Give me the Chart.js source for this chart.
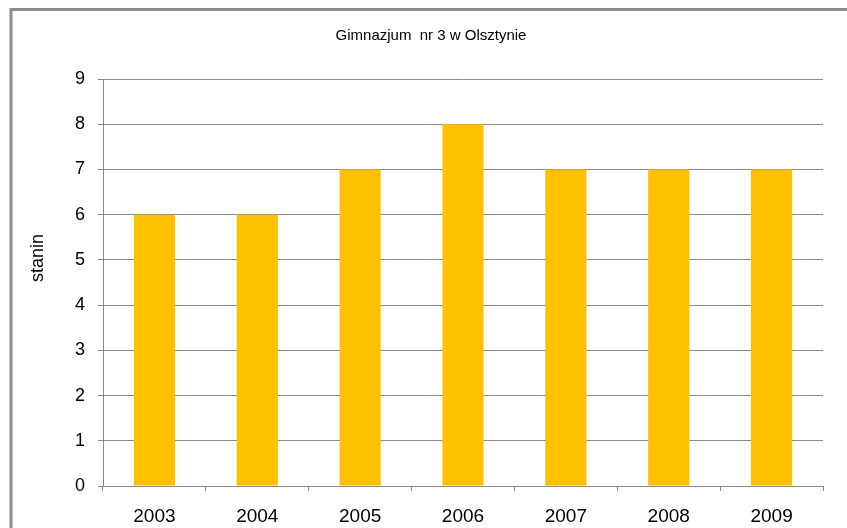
<!DOCTYPE html>
<html>
<head>
<meta charset="utf-8">
<script src="https://cdn.jsdelivr.net/npm/chart.js@4"></script>
<style>
  body { margin: 0; background: #fff; }
</style>
</head>
<body>
<canvas id="staninChart" width="847" height="528"></canvas>
<script>
// Wyniki (stanin) szkoły w kolejnych latach
const lata = ['2003', '2004', '2005', '2006', '2007', '2008', '2009'];
const stanin = [6, 6, 7, 8, 7, 7, 7];
const tytul = 'Gimnazjum  nr 3 w Olsztynie';
const osY = 'stanin';

const szary = '#898989';
const czcionka = '"Liberation Sans", Arial, sans-serif';

// ramka wykresu (lewa i górna krawędź), tytuł i opis osi Y
const ramka = {
    id: 'ramka',
    afterDraw(chart) {
        const c = chart.ctx;
        c.save();
        c.strokeStyle = '#8c8c8c';
        c.lineWidth = 3;
        c.beginPath();
        c.moveTo(11, 528);
        c.lineTo(11, 9.5);
        c.lineTo(847, 9.5);
        c.stroke();
        c.fillStyle = '#000';
        c.font = '15px ' + czcionka;
        c.textAlign = 'center';
        c.textBaseline = 'middle';
        c.fillText(tytul, 431, 36);
        c.translate(38, 258);
        c.rotate(-Math.PI / 2);
        c.font = '18px ' + czcionka;
        c.fillText(osY, 0, 0);
        c.restore();
    }
};

const ctx = document.getElementById('staninChart').getContext('2d');
const wykres = new Chart(ctx, {
    type: 'bar',
    data: {
        labels: lata,
        datasets: [{
            label: osY,
            data: stanin,
            backgroundColor: '#FFC000',
            borderWidth: 0,
            categoryPercentage: 1,
            barPercentage: 0.4
        }]
    },
    options: {
        responsive: false,
        animation: false,
        layout: { padding: { top: 79, left: 20, right: 24, bottom: 0 } },
        plugins: {
            legend: { display: false },
            tooltip: { enabled: false }
        },
        scales: {
            x: {
                afterFit(s) { s.height = 42; },
                grid: { drawOnChartArea: false, offset: true, tickLength: 5, color: szary },
                border: { color: szary, width: 1 },
                ticks: {
                    padding: 14,
                    color: '#000',
                    font: { family: czcionka, size: 19 }
                }
            },
            y: {
                min: 0,
                max: 9,
                afterFit(s) { s.width = 83; },
                grid: { color: szary, tickLength: 5 },
                border: { color: szary, width: 1 },
                ticks: {
                    stepSize: 1,
                    padding: 13,
                    color: '#000',
                    font: { family: czcionka, size: 18 }
                }
            }
        }
    },
    plugins: [ramka]
});
</script>
</body>
</html>
